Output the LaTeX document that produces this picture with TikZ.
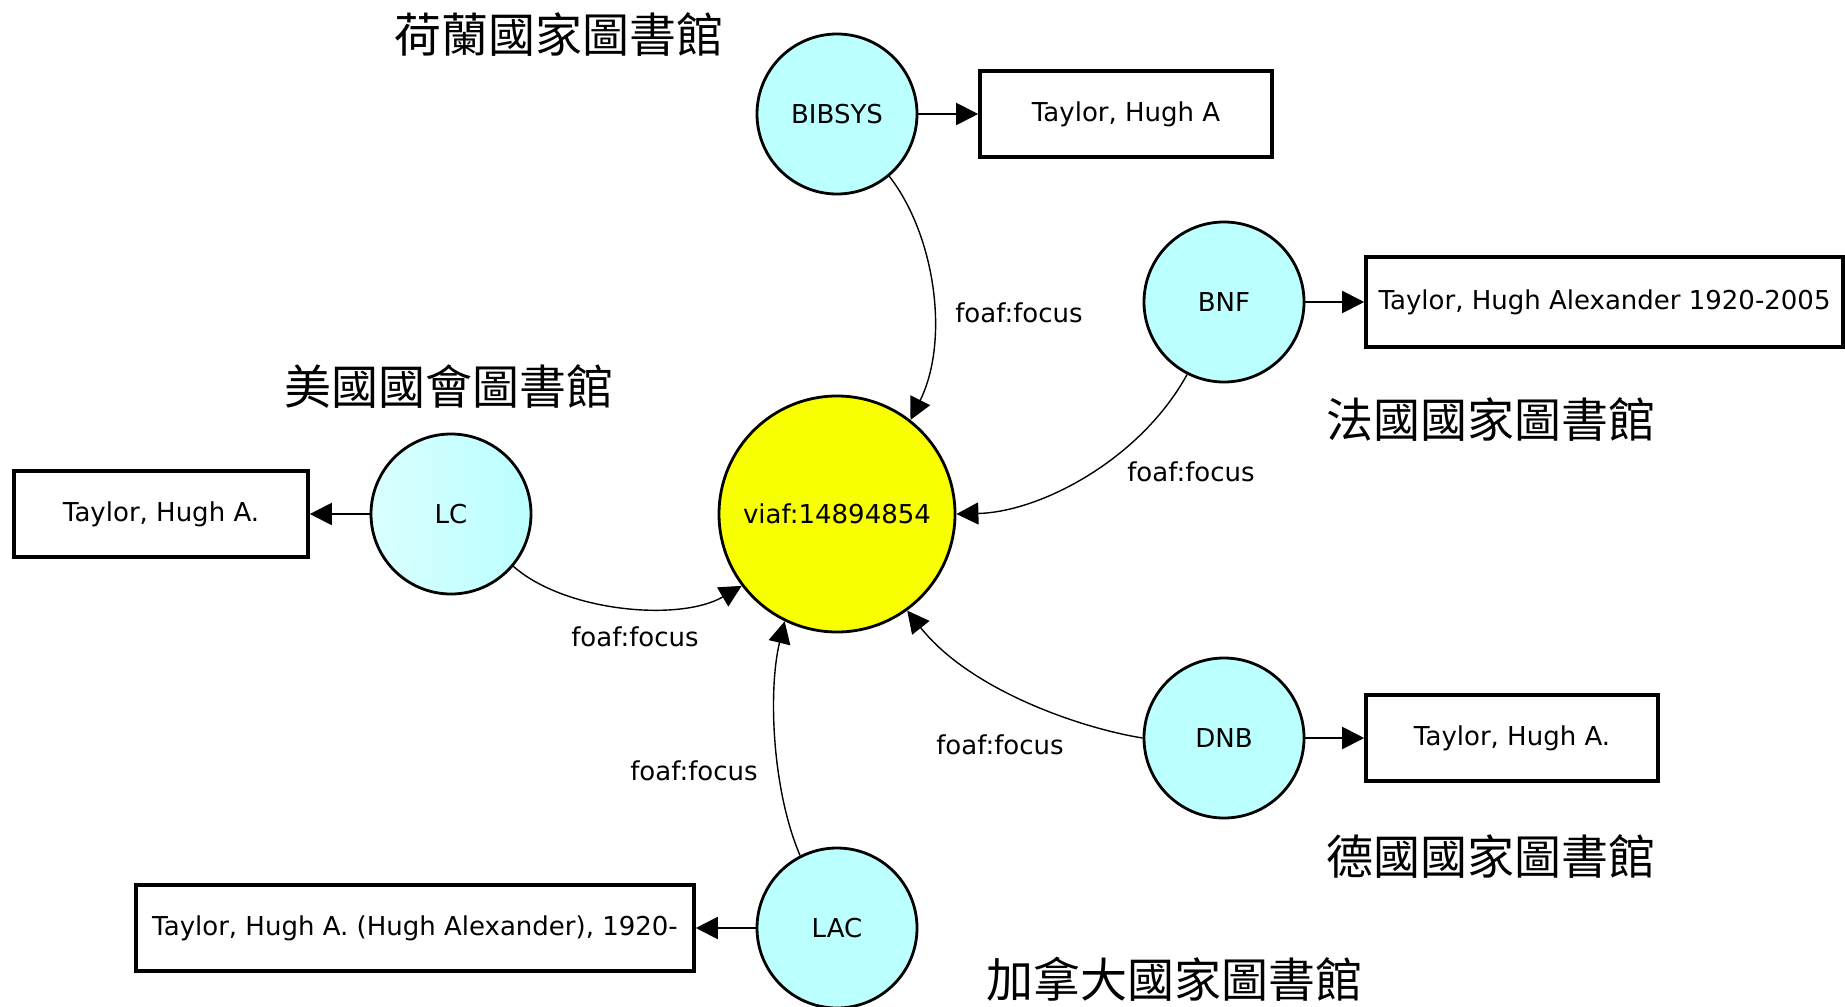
\documentclass[tikz,border=0pt]{standalone}
\usepackage{fontspec}
\setmainfont{DejaVu Sans}
\newfontfamily\cjk{Noto Sans CJK TC}
\usetikzlibrary{arrows.meta}
\definecolor{lib}{RGB}{187,255,255}
\definecolor{libpale}{RGB}{218,255,255}
\definecolor{hub}{RGB}{247,255,0}
\begin{document}
\begin{tikzpicture}[>={Triangle[length=11pt,width=11pt]},x=0.5pt,y=-0.5pt,
	every node/.style={font=\fontsize{13}{15}\selectfont,inner sep=0pt},
	src/.style={circle,draw,line width=1.4pt,fill=lib,minimum size=80pt},
	name box/.style={draw,line width=1.8pt,minimum height=43pt},
	rel/.style={->,line width=0.7pt},
	own/.style={->,line width=1pt},
	lbl/.style={font=\cjk\fontsize{23.5}{26}\selectfont}]
		\useasboundingbox (0,0) rectangle (1845,1006);
		\node[circle,draw,line width=1.4pt,fill=hub,minimum size=118pt] (viaf) at (837,514) {viaf:14894854};
		\node[src] (bib) at (837,114) {BIBSYS};
		\node[src] (bnf) at (1224,302) {BNF};
		\node[src,left color=libpale,middle color=white,right color=lib] (lc) at (451,514) {LC};
		\node[src] (dnb) at (1224,738) {DNB};
		\node[src] (lac) at (837,928) {LAC};
		\node[name box,minimum width=146pt] (bibname) at (1126,114) {Taylor, Hugh A};
		\node[name box,minimum width=238.5pt,minimum height=45pt] (bnfname) at (1604.5,302) {Taylor, Hugh Alexander 1920-2005};
		\node[name box,minimum width=147pt] (lcname) at (161,514) {Taylor, Hugh A.};
		\node[name box,minimum width=146pt] (dnbname) at (1512,738) {Taylor, Hugh A.};
		\node[name box,minimum width=279pt] (lacname) at (415,928) {Taylor, Hugh A. (Hugh Alexander), 1920-};
		\draw[own] (bib) -- (bibname);
		\draw[own] (bnf) -- (bnfname);
		\draw[own] (lc) -- (lcname);
		\draw[own] (dnb) -- (dnbname);
		\draw[own] (lac) -- (lacname);
		\draw[rel] (bib.-50) .. controls (935,235) and (950,340) .. (viaf.52);
		\draw[rel] (bnf.-117) .. controls (1140,460) and (1040,512) .. (viaf.east);
		\draw[rel] (lc.-40) .. controls (565,612) and (680,622) .. (viaf.217);
		\draw[rel] (dnb.west) .. controls (1080,728) and (970,690) .. (viaf.-54);
		\draw[rel] (lac.117) .. controls (772,790) and (768,690) .. (viaf.244);
		\node (bibrel) at (1019,313) {foaf:focus};
		\node (bnfrel) at (1191,472) {foaf:focus};
		\node (lcrel) at (635,637) {foaf:focus};
		\node (dnbrel) at (1000,745) {foaf:focus};
		\node (lacrel) at (694,771) {foaf:focus};
		\node[lbl] (biblbl) at (559,35) {荷蘭國家圖書館};
		\node[lbl] (lclbl) at (449,387) {美國國會圖書館};
		\node[lbl] (bnflbl) at (1491,420) {法國國家圖書館};
		\node[lbl] (dnblbl) at (1491,857) {德國國家圖書館};
		\node[lbl] (laclbl) at (1174,979) {加拿大國家圖書館};
\end{tikzpicture}
\end{document}
